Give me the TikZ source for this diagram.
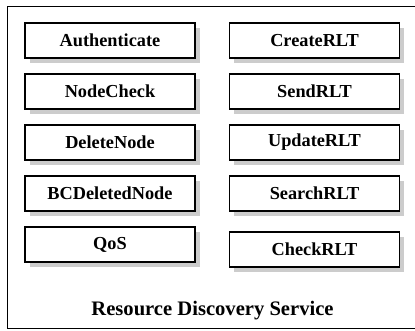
\documentclass[tikz,border=0pt]{standalone}
\usepackage{fontspec}
\setmainfont{Liberation Serif}
\usetikzlibrary{shadows}
\begin{document}
\begin{tikzpicture}[x=1pt,y=-1pt,
  svc/.style={draw, line width=1.4pt, fill=white, minimum width=170pt, minimum height=35pt,
    inner sep=0pt, font=\fontsize{18.3}{20}\selectfont\bfseries,
    drop shadow={shadow xshift=4.5pt, shadow yshift=-4.5pt, fill=gray!40, opacity=1}}]
\useasboundingbox (0,0) rectangle (415,330);
\draw[line width=1pt] (7.5,6.5) rectangle (425,328);

\node[svc] (auth) at (110,40.5) {Authenticate};
\node[svc] (nodecheck) at (110,91.5) {NodeCheck};
\node[svc] (delnode) at (110,142.5) {DeleteNode};
\node[svc] (bcdel) at (110,193.5) {BCDeletedNode};
\node[svc] (qos) at (110,244.5) {QoS};

\node[svc] (create) at (314.5,40.5) {CreateRLT};
\node[svc] (send) at (314.5,91.5) {SendRLT};
\node[svc] (update) at (314.5,142.5) {UpdateRLT};
\node[svc] (search) at (314.5,193.5) {SearchRLT};
\node[svc] (checkrlt) at (314.5,249.5) {CheckRLT};

\node[font=\fontsize{20.6}{22}\selectfont\bfseries] (rds) at (212.5,311) {Resource Discovery Service};
\end{tikzpicture}
\end{document}
